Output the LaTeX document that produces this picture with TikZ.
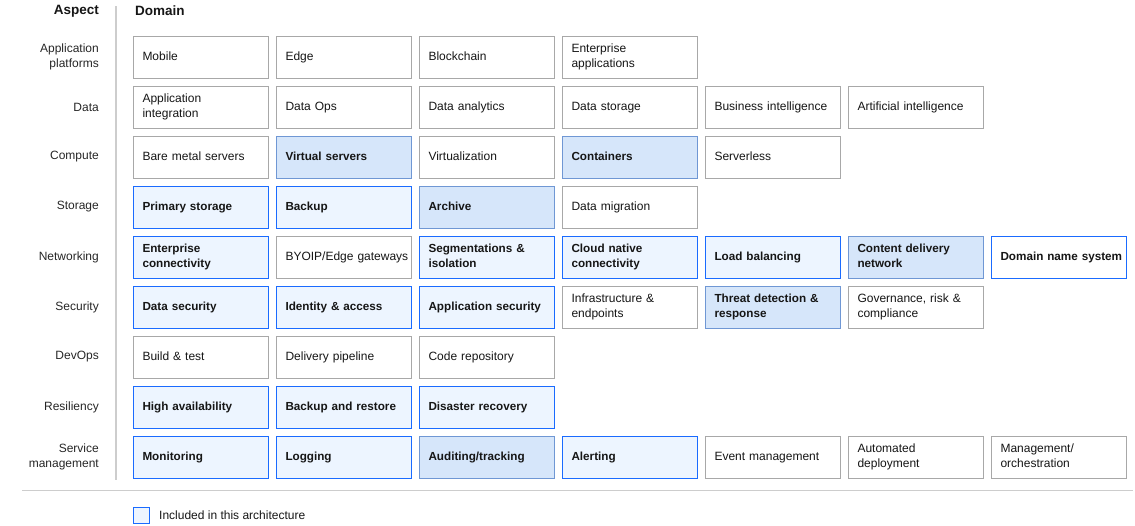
\documentclass[tikz,border=0pt]{standalone}
\usepackage{fontspec}
\setmainfont{Liberation Sans}
\definecolor{ink}{HTML}{161616}
\definecolor{labelink}{HTML}{262626}
\definecolor{cellgrey}{HTML}{A8A8A8}
\definecolor{rulegrey}{HTML}{CDCDCD}
\definecolor{incblue}{HTML}{1A6BFF}
\definecolor{incfill}{HTML}{EDF5FF}
\definecolor{shadeblue}{HTML}{6F97D4}
\definecolor{shadefill}{HTML}{D6E6FA}
\newcommand\cellfont{\fontsize{12}{15}\selectfont\hyphenpenalty=10000\exhyphenpenalty=10000\hbadness=10000\hfuzz=20pt}
\newcommand\boldcellfont{\fontsize{11.7}{15}\selectfont\bfseries\hyphenpenalty=10000\exhyphenpenalty=10000\hbadness=10000\hfuzz=20pt}
\begin{document}
\begin{tikzpicture}[x=1pt,y=-1pt,
  cell/.style={draw=cellgrey, line width=1pt, fill=white,
    minimum width=135pt, minimum height=42pt, text width=116pt,
    inner xsep=9.5pt, inner ysep=0pt, align=left, text=ink,
    font=\cellfont, execute at begin node=\strut, execute at end node=\strut},
  inc/.style={cell, draw=incblue, fill=incfill, font=\boldcellfont},
  shaded/.style={cell, draw=shadeblue, fill=shadefill, font=\boldcellfont},
  outlined/.style={cell, draw=incblue, fill=white, font=\boldcellfont},
  aspect/.style={anchor=east, align=right, text=labelink, inner sep=0pt,
    font=\fontsize{12}{15}\selectfont},
  header/.style={inner sep=0pt, text=ink, font=\fontsize{13.5}{16}\selectfont\bfseries},
  sep/.style={draw=rulegrey, line width=1.2pt}
]
\useasboundingbox (0,0) rectangle (1135,525);

% headers and separators
\node[header, anchor=east] (hAspect) at (99,11) {Aspect};
\node[header, anchor=west] (hDomain) at (135,11) {Domain};
\draw[sep] (116,6) -- (116,480);
\draw[sep] (22,490.5) -- (1133,490.5);

% aspect labels
\node[aspect] (a1) at (99,57) {Application\\platforms};
\node[aspect] (a2) at (99,107) {Data};
\node[aspect] (a3) at (99,157) {Compute};
\node[aspect] (a4) at (99,207) {Storage};
\node[aspect] (a5) at (99,257) {Networking};
\node[aspect] (a6) at (99,307) {Security};
\node[aspect] (a7) at (99,357) {DevOps};
\node[aspect] (a8) at (99,407) {Resiliency};
\node[aspect] (a9) at (99,457) {Service\\management};

% columns at x = 200.5 + 143 k
% Application platforms
\node[cell] (c11) at (200.5,57) {Mobile};
\node[cell] (c12) at (343.5,57) {Edge};
\node[cell] (c13) at (486.5,57) {Blockchain};
\node[cell] (c14) at (629.5,57) {Enterprise\\applications};

% Data
\node[cell] (c21) at (200.5,107) {Application\\integration};
\node[cell] (c22) at (343.5,107) {Data Ops};
\node[cell] (c23) at (486.5,107) {Data analytics};
\node[cell] (c24) at (629.5,107) {Data storage};
\node[cell] (c25) at (772.5,107) {Business intelligence};
\node[cell] (c26) at (915.5,107) {Artificial intelligence};

% Compute
\node[cell] (c31) at (200.5,157) {Bare metal servers};
\node[shaded] (c32) at (343.5,157) {Virtual servers};
\node[cell] (c33) at (486.5,157) {Virtualization};
\node[shaded] (c34) at (629.5,157) {Containers};
\node[cell] (c35) at (772.5,157) {Serverless};

% Storage
\node[inc] (c41) at (200.5,207) {Primary storage};
\node[inc] (c42) at (343.5,207) {Backup};
\node[shaded] (c43) at (486.5,207) {Archive};
\node[cell] (c44) at (629.5,207) {Data migration};

% Networking
\node[inc] (c51) at (200.5,257) {Enterprise\\connectivity};
\node[cell] (c52) at (343.5,257) {\mbox{BYOIP/Edge gateways}};
\node[inc] (c53) at (486.5,257) {Segmentations \&\\isolation};
\node[inc] (c54) at (629.5,257) {Cloud native\\connectivity};
\node[inc] (c55) at (772.5,257) {Load balancing};
\node[shaded] (c56) at (915.5,257) {Content delivery\\network};
\node[outlined] (c57) at (1058.5,257) {\mbox{Domain name system}};

% Security
\node[inc] (c61) at (200.5,307) {Data security};
\node[inc] (c62) at (343.5,307) {Identity \& access};
\node[inc] (c63) at (486.5,307) {Application security};
\node[cell] (c64) at (629.5,307) {Infrastructure \&\\endpoints};
\node[shaded] (c65) at (772.5,307) {Threat detection \&\\response};
\node[cell] (c66) at (915.5,307) {Governance, risk \&\\compliance};

% DevOps
\node[cell] (c71) at (200.5,357) {Build \& test};
\node[cell] (c72) at (343.5,357) {Delivery pipeline};
\node[cell] (c73) at (486.5,357) {Code repository};

% Resiliency
\node[inc] (c81) at (200.5,407) {High availability};
\node[inc] (c82) at (343.5,407) {Backup and restore};
\node[inc] (c83) at (486.5,407) {Disaster recovery};

% Service management
\node[inc] (c91) at (200.5,457) {Monitoring};
\node[inc] (c92) at (343.5,457) {Logging};
\node[shaded] (c93) at (486.5,457) {Auditing/tracking};
\node[inc] (c94) at (629.5,457) {Alerting};
\node[cell] (c95) at (772.5,457) {Event management};
\node[cell] (c96) at (915.5,457) {Automated\\deployment};
\node[cell] (c97) at (1058.5,457) {Management/\\orchestration};

% legend
\node[draw=incblue, fill=incfill, line width=1pt, minimum width=16pt,
  minimum height=16pt, inner sep=0pt] (lgbox) at (141.5,515) {};
\node[anchor=west, inner sep=0pt, text=ink, font=\fontsize{12}{15}\selectfont]
  (lgtext) at (159,515) {Included in this architecture};
\end{tikzpicture}
\end{document}
